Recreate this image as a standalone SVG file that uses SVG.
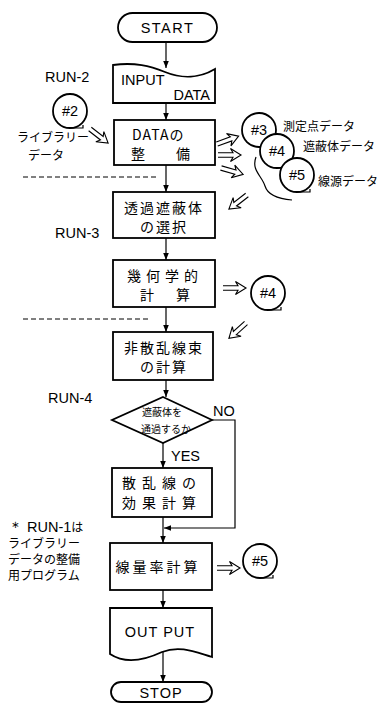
<svg xmlns="http://www.w3.org/2000/svg" width="385" height="703" viewBox="0 0 385 703">
<defs>
<style>
.s{fill:#fff;stroke:#000;stroke-width:1.8}
.l{fill:none;stroke:#000;stroke-width:1.2}
.d{fill:none;stroke:#000;stroke-width:1;stroke-dasharray:5,3}
.da{fill:#fff;stroke:#000;stroke-width:1.1;stroke-linejoin:miter}
.en{font-family:"Liberation Sans","DejaVu Sans",sans-serif;font-size:14.5px;fill:#000}
.jp{font-family:"Noto Sans CJK JP",sans-serif;font-size:14px;fill:#000}
.jps{font-family:"Noto Sans CJK JP",sans-serif;font-size:12px;fill:#000}
.jpx{font-family:"Noto Sans CJK JP",sans-serif;font-size:10px;fill:#000}
</style>
<marker id="ar" viewBox="0 0 10 10" refX="10" refY="5" markerWidth="7" markerHeight="7" orient="auto" markerUnits="userSpaceOnUse">
<path d="M0,1 L10,5 L0,9 Z" fill="#000"/>
</marker>
<g id="dbl"><path class="da" d="M0,-2.2 H15 L12.5,-6.5 L23,0 L12.5,6.5 L15,2.2 H0"/></g>
<g id="tape"><circle class="s" cx="0" cy="0" r="17"/><path class="l" stroke-width="1.8" d="M0,17 H13 V14"/></g>
</defs>

<g id="connectors">
<path class="l" d="M166,42 V68" marker-end="url(#ar)"/>
<path class="l" d="M166,103 V120" marker-end="url(#ar)"/>
<path class="l" d="M166,165 V192" marker-end="url(#ar)"/>
<path class="l" d="M166,238 V260" marker-end="url(#ar)"/>
<path class="l" d="M166,307 V332" marker-end="url(#ar)"/>
<path class="l" d="M166,380 V397" marker-end="url(#ar)"/>
<path class="l" d="M163,443 V468" marker-end="url(#ar)"/>
<path class="l" d="M163,517 V543" marker-end="url(#ar)"/>
<path class="l" d="M212,420 H235 V528 H164" marker-end="url(#ar)"/>
<path class="l" d="M163,590 V608" marker-end="url(#ar)"/>
<path class="l" d="M163,652 V682" marker-end="url(#ar)"/>
<path class="d" d="M23,177 H157"/>
<path class="d" d="M23,319 H150"/>
<use href="#dbl" transform="translate(90,129) rotate(38)"/>
<use href="#dbl" transform="translate(217,144) rotate(-20)"/>
<use href="#dbl" transform="translate(218,155)"/>
<use href="#dbl" transform="translate(221,168) rotate(16)"/>
<use href="#dbl" transform="translate(247,195) rotate(142)"/>
<use href="#dbl" transform="translate(246,323) rotate(138)"/>
<use href="#dbl" transform="translate(223,288)"/>
<use href="#dbl" transform="translate(217,568)"/>
<path class="l" d="M256,157 C251,170 262,176 265,186 C268,196 280,199 292,200"/>
</g>

<g id="start">
<rect class="s" x="118" y="13" width="99" height="29" rx="14.5"/>
<text class="en" x="167.5" y="33" text-anchor="middle" letter-spacing="1.5">START</text>
</g>

<g id="input">
<path class="s" d="M113,65 C135,62 150,66 165,72 C182,79 200,78 215,69 V103 H113 Z"/>
<text class="en" x="121" y="85">INPUT</text>
<text class="en" x="210" y="100" text-anchor="end">DATA</text>
</g>

<g id="run2"><text class="en" x="45" y="82">RUN-2</text></g>

<g id="lib">
<use href="#tape" transform="translate(70,111)"/>
<text class="en" x="70" y="116" text-anchor="middle">#2</text>
<text class="jps" x="17" y="142">ライブラリー</text>
<text class="jps" x="28" y="160">データ</text>
</g>

<g id="dataprep">
<rect class="s" x="114" y="120" width="101" height="45"/>
<text class="jp" x="132" y="140" letter-spacing="1">DATAの</text>
<text class="jp" x="131" y="159">整</text>
<text class="jp" x="176" y="159">備</text>
</g>

<g id="files">
<use href="#tape" transform="translate(259,130)"/>
<text class="en" x="259" y="135" text-anchor="middle">#3</text>
<use href="#tape" transform="translate(277,151)"/>
<text class="en" x="277" y="156" text-anchor="middle">#4</text>
<use href="#tape" transform="translate(297,175)"/>
<text class="en" x="297" y="180" text-anchor="middle">#5</text>
<text class="jps" x="283" y="131">測定点データ</text>
<text class="jps" x="303" y="151">遮蔽体データ</text>
<text class="jps" x="318" y="186">線源データ</text>
</g>

<g id="select">
<rect class="s" x="113" y="192" width="102" height="46"/>
<text class="jp" x="164" y="213" text-anchor="middle" letter-spacing="2">透過遮蔽体</text>
<text class="jp" x="164" y="232" text-anchor="middle" letter-spacing="2">の選択</text>
</g>

<g id="run3"><text class="en" x="55" y="238">RUN-3</text></g>

<g id="geom">
<rect class="s" x="113" y="260" width="102" height="47"/>
<text class="jp" x="165" y="281" text-anchor="middle" letter-spacing="5">幾何学的</text>
<text class="jp" x="140" y="300">計</text>
<text class="jp" x="176" y="300">算</text>
</g>

<g id="f4">
<use href="#tape" transform="translate(268,293)"/>
<text class="en" x="268" y="298" text-anchor="middle">#4</text>
</g>

<g id="unscat">
<rect class="s" x="113" y="332" width="100" height="48"/>
<text class="jp" x="164" y="353" text-anchor="middle" letter-spacing="2">非散乱線束</text>
<text class="jp" x="164" y="372" text-anchor="middle" letter-spacing="2">の計算</text>
</g>

<g id="run4"><text class="en" x="48" y="403">RUN-4</text></g>

<g id="decision">
<path class="s" d="M163,397 L212,420 L163,443 L112,420 Z"/>
<text class="jpx" x="162" y="416" text-anchor="middle">遮蔽体を</text>
<text class="jpx" x="166" y="433" text-anchor="middle">通過するか</text>
<text class="en" x="213" y="416">NO</text>
<text class="en" x="171" y="461">YES</text>
</g>

<g id="scat">
<rect class="s" x="112" y="468" width="100" height="49"/>
<text class="jp" x="162" y="488" text-anchor="middle" letter-spacing="6">散乱線の</text>
<text class="jp" x="162" y="508" text-anchor="middle" letter-spacing="6">効果計算</text>
</g>

<g id="note">
<text class="jps" x="8" y="532"><tspan class="en" font-size="13.5">＊ RUN-1</tspan>は</text>
<text class="jps" x="8" y="548">ライブラリー</text>
<text class="jps" x="8" y="564">データの整備</text>
<text class="jps" x="8" y="580">用プログラム</text>
</g>

<g id="dose">
<rect class="s" x="110" y="543" width="102" height="47"/>
<text class="jp" x="158" y="572" text-anchor="middle" letter-spacing="3">線量率計算</text>
</g>

<g id="f5">
<use href="#tape" transform="translate(260,561)"/>
<text class="en" x="260" y="566" text-anchor="middle">#5</text>
</g>

<g id="output">
<path class="s" d="M110,608 H212 V657 C195,652 180,645 162,652 C145,660 125,664 110,654 Z"/>
<text class="en" x="160" y="637" text-anchor="middle" letter-spacing="1">OUT  PUT</text>
</g>

<g id="stop">
<rect class="s" x="111" y="682" width="101" height="20" rx="10"/>
<text class="en" x="161" y="698" text-anchor="middle" letter-spacing="1">STOP</text>
</g>
</svg>
